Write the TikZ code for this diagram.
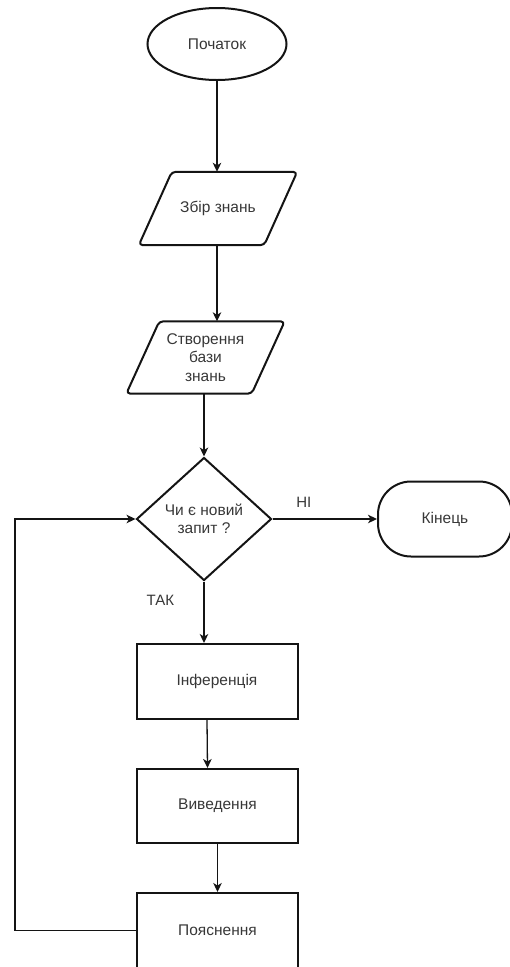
\documentclass[tikz,border=0pt]{standalone}
\usepackage{fontspec}
\setmainfont{Liberation Sans}
\usetikzlibrary{shapes.geometric,arrows.meta,calc}
\definecolor{ink}{RGB}{20,20,20}
\definecolor{txt}{RGB}{55,55,55}
\begin{document}
\begin{tikzpicture}[x=1pt,y=-1pt,
  every node/.style={font=\fontsize{15.5}{18.5}\selectfont, text=txt, align=center},
  outline/.style={draw=ink, line width=2pt},
  flow/.style={draw=ink, line width=1.3pt, -{Stealth[length=9pt,width=8.5pt,inset=2.5pt]}},
  procbox/.style={outline, rectangle, minimum width=161pt, minimum height=75pt, inner sep=0pt},
  iobox/.style={rectangle, minimum width=125pt, minimum height=73pt, inner sep=0pt},
  slanted/.style={outline, rounded corners=4pt, line join=round},
  lbl/.style={font=\fontsize{15}{18}\selectfont}
]
\useasboundingbox (0,0) rectangle (510,967);

% terminators
\node[outline, ellipse, minimum width=139pt, minimum height=72pt, inner sep=0pt] (start) at (217,44) {Початок};
\node[outline, rectangle, rounded corners=33pt, minimum width=134pt, minimum height=75pt, inner sep=0pt] (stop) at (445,519) {Кінець};

% input/output blocks (parallelograms drawn around text nodes)
\node[iobox] (collect) at (218,208.5) {Збір знань};
\draw[slanted] ([xshift=16.5pt]collect.north west) -- ([xshift=16.5pt]collect.north east)
  -- ([xshift=-16.5pt]collect.south east) -- ([xshift=-16.5pt]collect.south west) -- cycle;

\node[iobox, minimum height=72pt] (build) at (205.5,357.5) {Створення\\бази\\знань};
\draw[slanted] ([xshift=16.5pt]build.north west) -- ([xshift=16.5pt]build.north east)
  -- ([xshift=-16.5pt]build.south east) -- ([xshift=-16.5pt]build.south west) -- cycle;

% decision
\node[outline, diamond, minimum width=135pt, minimum height=123pt, inner sep=0pt] (query) at (204,519) {Чи є новий\\запит ?};

% processes
\node[procbox] (infer) at (217,681.5) {Інференція};
\node[procbox, minimum height=74pt] (derive) at (217.5,806) {Виведення};
\node[procbox] (explain) at (217.5,930.5) {Пояснення};

% loop-back corner
\coordinate (loop) at (15,930.5);

% connectors
\draw[flow] (start.south) -- (start.south |- collect.north);
\draw[flow] (collect.south -| 217,0) -- (build.north -| 217,0);
\draw[flow] (query.north |- build.south) -- (query.north);
\draw[flow] (query.east) -- node[lbl, above=8pt, pos=0.3] {НІ} (stop.west);
\draw[flow] (query.south) -- node[lbl, left=26pt, pos=0.3] {ТАК} (query.south |- infer.north);
\draw[flow] ([xshift=-10pt]infer.south) -- ([xshift=-10pt]derive.north);
\draw[flow] (derive.south) -- (explain.north);
\draw[flow] (explain.west) -- (loop) |- (query.west);

\end{tikzpicture}
\end{document}
